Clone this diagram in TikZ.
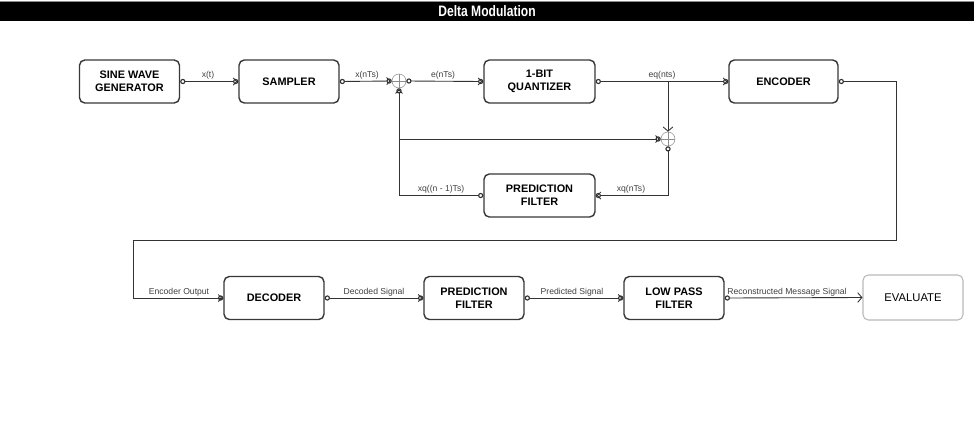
\documentclass[tikz,border=0pt]{standalone}
\usepackage{fontspec}
\setmainfont{Liberation Sans}
\usetikzlibrary{arrows.meta,positioning,calc}

\begin{document}
\begin{tikzpicture}[
  x=0.02cm, y=-0.02cm,
  every node/.style={font=\fontsize{6}{7}\selectfont},
  block/.style={rounded corners=3pt,draw=black!78,line width=.8pt,fill=white,
                minimum width=2cm,minimum height=.86cm,align=center,
                inner sep=1pt,font=\fontsize{6.2}{7.4}\selectfont\bfseries},
  evalbox/.style={rounded corners=3pt,draw=black!28,line width=.6pt,
                  minimum width=2cm,minimum height=.9cm,
                  font=\fontsize{6.4}{7}\selectfont},
  sumnode/.style={circle,draw=black!45,line width=.3pt,minimum size=.28cm,
                  inner sep=0pt,
                  path picture={\draw[black!45,line width=.3pt]
                    (path picture bounding box.north)--(path picture bounding box.south)
                    (path picture bounding box.west)--(path picture bounding box.east);}},
  lbl/.style={font=\fontsize{4.9}{5.8}\selectfont,text=black!75,inner sep=0pt},
  link/.style={draw=black!80,line width=.5pt},
  io/.style={link,{Circle[open,length=3pt,line width=.65pt]}-{Straight Barb[length=2pt,width=4pt,sep=-2.4pt]Circle[open,length=3pt,line width=.65pt]}},
  outonly/.style={link,{Circle[open,length=3pt,line width=.65pt]}-},
  inonly/.style={link,-{Straight Barb[length=2pt,width=4pt,sep=-2.4pt]Circle[open,length=3pt,line width=.65pt]}}
]
\useasboundingbox (0,0) rectangle (974,420);

% title bar
\fill[black!45] (0,0.5) rectangle (974,2);
\fill[black] (0,2) rectangle (974,21);
\node[font=\fontsize{8.6}{9}\selectfont\bfseries,text=white] (title) at (487,11.5)
  {\scalebox{.8}[1]{Delta Modulation}};

% modulator
\node[block] (gen) at (129.5,81.5) {SINE WAVE\\GENERATOR};
\node[block] (samp) at (289,81.5) {SAMPLER};
\node[sumnode] (sum1) at (399,81) {};
\node[block,minimum width=2.22cm] (quant) at (539.5,81.5) {1-BIT\\QUANTIZER};
\node[block,minimum width=2.18cm] (enc) at (783.5,81.5) {ENCODER};
\node[sumnode] (sum2) at (668,139) {};
\node[block,minimum width=2.22cm] (pred1) at (539.5,195.5) {PREDICTION\\FILTER};

\coordinate (tap) at (668,81);
\coordinate (loopl) at (399,195.5);
\coordinate (loopr) at (668,195.5);
\coordinate (mid) at (399,139);

\draw[io] (gen.east)--(samp.west);
\draw[io] (samp.east)--(sum1.west);
\draw[io] (sum1.east)--(quant.west);
\draw[io] (quant.east)--(enc.west);
\draw[link,-{Straight Barb[length=2.4pt,width=5.5pt]}] (tap)--(sum2.north);
\draw[io] (sum2.south)--(loopr)--(pred1.east);
\draw[io] (pred1.west)--(loopl)--(sum1.south);
\draw[inonly] (mid)--(sum2.west);

\node[lbl] (lxt) at (208,75) {x(t)};
\node[lbl] (lxn) at (367,75) {x(nTs)};
\node[lbl] (len) at (443,75) {e(nTs)};
\node[lbl] (leq) at (662,75) {eq(nts)};
\node[lbl] (lxq1) at (441,189) {xq((n - 1)Ts)};
\node[lbl] (lxq) at (631,189) {xq(nTs)};

% demodulator
\node[block] (dec) at (274,298) {DECODER};
\node[block] (pred2) at (474,298) {PREDICTION\\FILTER};
\node[block] (lpf) at (674,298) {LOW PASS\\FILTER};
\node[evalbox] (eval) at (913,297.5) {EVALUATE};

\coordinate (e1) at (896,81.5);
\coordinate (e2) at (896,240);
\coordinate (e3) at (133,240);
\coordinate (e4) at (133,298);

\draw[outonly] (enc.east)--(e1)--(e2)--(e3)--(e4)--(dec.west);
\draw[inonly] (e4)--(dec.west);
\draw[io] (dec.east)--(pred2.west);
\draw[io] (pred2.east)--(lpf.west);
\draw[link,{Circle[open,length=3pt,line width=.65pt]}-{Straight Barb[length=2.4pt,width=5.5pt]}]
  (lpf.east)--(eval.west);

\node[lbl] (lenc) at (179,292) {Encoder Output};
\node[lbl] (ldec) at (374,292) {Decoded Signal};
\node[lbl] (lpre) at (572,292) {Predicted Signal};
\node[lbl] (lrec) at (787,292) {Reconstructed Message Signal};
\end{tikzpicture}
\end{document}
